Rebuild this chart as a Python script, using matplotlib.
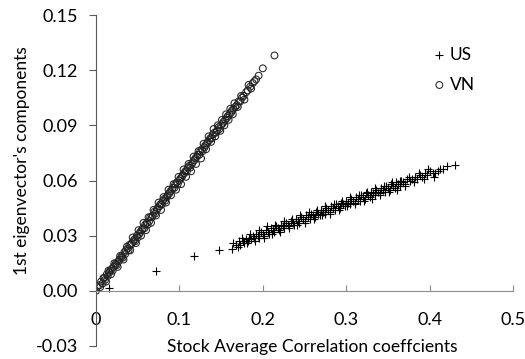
import matplotlib.pyplot as plt

plt.rcParams['font.family'] = ['Lato', 'DejaVu Sans']

# VN: (avg correlation, 1st eigenvector component)
vn_x = [0.000, 0.001, 0.004, 0.006, 0.008, 0.010, 0.011, 0.013, 0.014, 0.016,
        0.017, 0.019, 0.020, 0.021, 0.023, 0.024, 0.025, 0.027, 0.028, 0.030,
        0.031, 0.032, 0.034, 0.035, 0.036, 0.038, 0.039, 0.040, 0.042, 0.043,
        0.045, 0.046, 0.047, 0.049, 0.050, 0.052, 0.053, 0.055, 0.056, 0.058,
        0.059, 0.061, 0.062, 0.064, 0.065, 0.067, 0.068, 0.070, 0.071, 0.073,
        0.074, 0.076, 0.077, 0.079, 0.080, 0.082, 0.083, 0.085, 0.086, 0.088,
        0.089, 0.091, 0.092, 0.094, 0.095, 0.097, 0.098, 0.100, 0.101, 0.103,
        0.104, 0.106, 0.107, 0.109, 0.110, 0.112, 0.113, 0.115, 0.116, 0.118,
        0.119, 0.121, 0.122, 0.124, 0.125, 0.127, 0.128, 0.130, 0.131, 0.133,
        0.134, 0.136, 0.137, 0.139, 0.140, 0.142, 0.144, 0.145, 0.147, 0.148,
        0.150, 0.152, 0.153, 0.155, 0.157, 0.158, 0.160, 0.162, 0.163, 0.165,
        0.167, 0.169, 0.171, 0.173, 0.175, 0.177, 0.180, 0.182, 0.185, 0.188,
        0.190, 0.195, 0.200, 0.214,
        0.005, 0.009, 0.012, 0.015, 0.018, 0.022, 0.026, 0.029, 0.033, 0.037,
        0.041, 0.044, 0.048, 0.051, 0.054, 0.057, 0.060, 0.063, 0.066, 0.069,
        0.072, 0.075, 0.078, 0.081, 0.084, 0.087, 0.090, 0.093, 0.096, 0.099,
        0.102, 0.105, 0.108, 0.111, 0.114, 0.117, 0.120, 0.123, 0.126, 0.129,
        0.132, 0.135, 0.138, 0.141, 0.143, 0.146, 0.149, 0.151, 0.154, 0.156,
        0.159, 0.161, 0.164, 0.166, 0.170, 0.174, 0.178, 0.183, 0.186, 0.192]
vn_y = [0.000, 0.002, 0.003, 0.005, 0.004, 0.007, 0.006, 0.009, 0.008, 0.010,
        0.011, 0.012, 0.011, 0.013, 0.014, 0.015, 0.014, 0.016, 0.017, 0.018,
        0.019, 0.018, 0.021, 0.020, 0.022, 0.023, 0.022, 0.025, 0.025, 0.026,
        0.027, 0.028, 0.027, 0.030, 0.029, 0.031, 0.032, 0.033, 0.034, 0.034,
        0.036, 0.037, 0.036, 0.038, 0.040, 0.040, 0.041, 0.043, 0.042, 0.044,
        0.045, 0.046, 0.047, 0.047, 0.049, 0.050, 0.049, 0.051, 0.052, 0.053,
        0.054, 0.055, 0.056, 0.056, 0.058, 0.059, 0.058, 0.060, 0.061, 0.062,
        0.063, 0.064, 0.065, 0.065, 0.067, 0.068, 0.067, 0.069, 0.070, 0.071,
        0.072, 0.073, 0.074, 0.074, 0.076, 0.077, 0.076, 0.078, 0.079, 0.080,
        0.081, 0.082, 0.083, 0.083, 0.085, 0.086, 0.086, 0.087, 0.089, 0.088,
        0.090, 0.091, 0.092, 0.093, 0.094, 0.095, 0.096, 0.097, 0.098, 0.099,
        0.100, 0.101, 0.103, 0.103, 0.105, 0.106, 0.108, 0.109, 0.111, 0.113,
        0.114, 0.117, 0.121, 0.128,
        0.002, 0.007, 0.005, 0.011, 0.009, 0.015, 0.013, 0.019, 0.017, 0.024,
        0.022, 0.029, 0.026, 0.033, 0.030, 0.037, 0.033, 0.040, 0.037, 0.044,
        0.041, 0.048, 0.044, 0.051, 0.048, 0.055, 0.052, 0.058, 0.055, 0.062,
        0.058, 0.066, 0.062, 0.069, 0.065, 0.073, 0.069, 0.076, 0.072, 0.080,
        0.077, 0.084, 0.081, 0.088, 0.084, 0.090, 0.087, 0.093, 0.090, 0.096,
        0.093, 0.099, 0.096, 0.102, 0.100, 0.106, 0.104, 0.112, 0.110, 0.115]

# US
us_x = [0.016, 0.072, 0.118, 0.147, 0.163, 0.164, 0.168, 0.171, 0.173, 0.176,
        0.178, 0.180, 0.182, 0.184, 0.186, 0.188, 0.190, 0.192, 0.194, 0.196,
        0.198, 0.200, 0.202, 0.204, 0.206, 0.208, 0.210, 0.212, 0.214, 0.216,
        0.218, 0.220, 0.222, 0.224, 0.226, 0.228, 0.230, 0.232, 0.234, 0.236,
        0.238, 0.240, 0.242, 0.244, 0.246, 0.248, 0.250, 0.252, 0.254, 0.256,
        0.258, 0.260, 0.262, 0.264, 0.266, 0.268, 0.270, 0.272, 0.274, 0.276,
        0.278, 0.280, 0.282, 0.284, 0.286, 0.288, 0.290, 0.292, 0.294, 0.296,
        0.298, 0.300, 0.302, 0.304, 0.306, 0.308, 0.310, 0.312, 0.314, 0.316,
        0.318, 0.320, 0.322, 0.324, 0.326, 0.328, 0.330, 0.332, 0.334, 0.336,
        0.338, 0.340, 0.342, 0.344, 0.346, 0.348, 0.350, 0.352, 0.354, 0.356,
        0.358, 0.360, 0.362, 0.364, 0.366, 0.368, 0.370, 0.373, 0.376, 0.379,
        0.382, 0.385, 0.388, 0.391, 0.394, 0.397, 0.400, 0.404, 0.407, 0.412,
        0.416, 0.421, 0.431,
        0.175, 0.185, 0.195, 0.205, 0.215, 0.225, 0.235, 0.245, 0.255, 0.265,
        0.275, 0.285, 0.295, 0.305, 0.315, 0.325, 0.335, 0.345, 0.355, 0.365,
        0.375, 0.387, 0.398,
        0.170, 0.181, 0.191, 0.201, 0.211, 0.221, 0.231, 0.241, 0.251, 0.261,
        0.271, 0.281, 0.291, 0.301, 0.311, 0.321, 0.331, 0.341, 0.351, 0.361,
        0.371, 0.381, 0.393, 0.405, 0.410]
us_y = [0.0015, 0.011, 0.019, 0.022, 0.023, 0.026, 0.025, 0.027, 0.025, 0.027,
        0.026, 0.028, 0.027, 0.029, 0.028, 0.030, 0.029, 0.031, 0.030, 0.029,
        0.032, 0.031, 0.030, 0.033, 0.032, 0.031, 0.034, 0.033, 0.032, 0.035,
        0.034, 0.033, 0.036, 0.035, 0.034, 0.037, 0.036, 0.035, 0.038, 0.037,
        0.036, 0.039, 0.038, 0.037, 0.040, 0.039, 0.038, 0.041, 0.040, 0.039,
        0.042, 0.041, 0.040, 0.043, 0.042, 0.041, 0.044, 0.043, 0.042, 0.045,
        0.044, 0.043, 0.046, 0.045, 0.044, 0.047, 0.046, 0.045, 0.048, 0.047,
        0.046, 0.049, 0.048, 0.047, 0.050, 0.049, 0.048, 0.051, 0.050, 0.049,
        0.052, 0.051, 0.050, 0.053, 0.052, 0.051, 0.054, 0.053, 0.052, 0.055,
        0.054, 0.053, 0.056, 0.055, 0.054, 0.057, 0.056, 0.055, 0.058, 0.057,
        0.056, 0.059, 0.058, 0.057, 0.060, 0.059, 0.058, 0.061, 0.060, 0.061,
        0.062, 0.061, 0.063, 0.062, 0.064, 0.063, 0.065, 0.064, 0.064, 0.066,
        0.066, 0.068, 0.0685,
        0.029, 0.031, 0.033, 0.035, 0.036, 0.038, 0.039, 0.041, 0.043, 0.044,
        0.046, 0.047, 0.049, 0.051, 0.052, 0.054, 0.056, 0.057, 0.059, 0.060,
        0.062, 0.064, 0.066,
        0.024, 0.026, 0.027, 0.029, 0.031, 0.032, 0.034, 0.036, 0.037, 0.039,
        0.041, 0.042, 0.044, 0.046, 0.047, 0.049, 0.050, 0.052, 0.054, 0.055,
        0.057, 0.059, 0.061, 0.062, 0.065]

x_ticks = [0, 0.1, 0.2, 0.3, 0.4, 0.5]
x_labels = ['0', '0.1', '0.2', '0.3', '0.4', '0.5']
y_ticks = [-0.03, 0.00, 0.03, 0.06, 0.09, 0.12, 0.15]
y_labels = ['-0.03', '0.00', '0.03', '0.06', '0.09', '0.12', '0.15']

fig = plt.figure(figsize=(5.25, 3.59), dpi=100)
ax = fig.add_axes([96 / 525, 1 - 346 / 359, 417 / 525, 331 / 359])

ax.scatter(us_x, us_y, marker='+', s=32, c='black', linewidths=0.8, label='US')
ax.scatter(vn_x, vn_y, marker='o', s=24, facecolors='none', edgecolors='#222222',
           linewidths=0.75, label='VN')

ax.set_xlim(0, 0.5)
ax.set_ylim(-0.03, 0.15)
ax.set_xticks(x_ticks)
ax.set_xticklabels(x_labels)
ax.set_yticks(y_ticks)
ax.set_yticklabels(y_labels)

for s in ['top', 'right']:
    ax.spines[s].set_visible(False)
ax.spines['bottom'].set_position(('data', 0))
ax.spines['bottom'].set_color('#8c8c8c')
ax.spines['left'].set_color('#5a5a5a')
ax.tick_params(axis='x', direction='in', length=4, pad=15, labelsize=13, color='#8c8c8c')
ax.tick_params(axis='y', direction='out', length=5, pad=8, labelsize=13, color='#5a5a5a')

fig.text(312 / 525, 1 - 347 / 359, 'Stock Average Correlation coeffcients',
         ha='center', va='center', fontsize=12.5)
fig.text(22 / 525, 1 - 161 / 359, "1st eigenvector's components",
         ha='center', va='center', rotation=90, fontsize=12.5)

ax.legend(loc='upper left', bbox_to_anchor=(422 / 525, 1 - 38 / 359),
          bbox_transform=fig.transFigure, frameon=False, fontsize=12.5,
          handletextpad=0.1, handlelength=1.0, labelspacing=0.8, borderpad=0)

fig.savefig('out.png', dpi=100)
